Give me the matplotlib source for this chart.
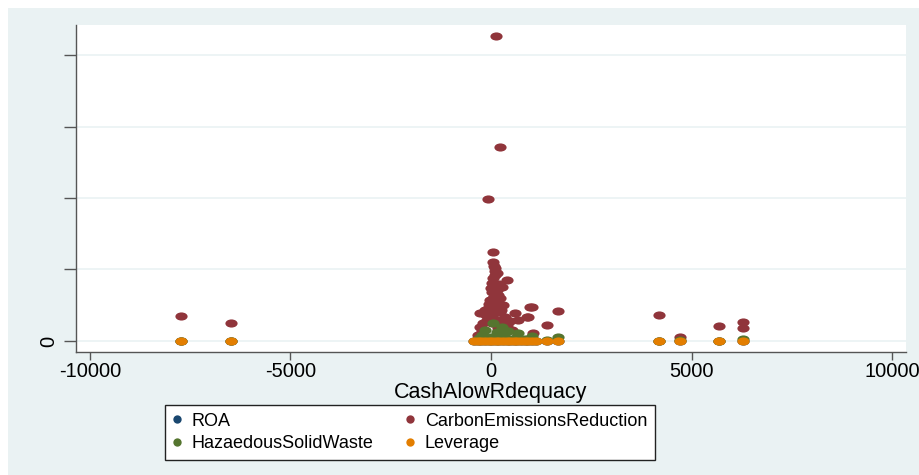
import numpy as np
import matplotlib
matplotlib.use("Agg")
import matplotlib.pyplot as plt
from matplotlib.path import Path
from matplotlib.transforms import Affine2D
from matplotlib.lines import Line2D
from matplotlib.patches import Rectangle

plt.rcParams['font.family'] = ['Liberation Sans', 'DejaVu Sans']

# ---------------- data ----------------
x_label = "CashAlowRdequacy"
series_names = ["ROA", "CarbonEmissionsReduction", "HazaedousSolidWaste", "Leverage"]
series_colors = ["#1A476F", "#90353B", "#55752F", "#E37E00"]

lev_x = [-7731, -6484, -420, -330, -240, -150, -60, 30, 120, 210, 300, 390,
         480, 570, 660, 750, 840, 930, 1020, 1110, 1389, 1663, 4190, 4713, 5686, 6284]
lev_y = [0] * len(lev_x)

roa_x = list(lev_x)
roa_y = [0] * len(roa_x)

cer_x = [-7731, -6484, 125, 217, -67, 4190, 4713, 5686, 6284, 6284,
         57, 57, 100, 100, 390, 17, 266, 17, 182, -25, 182, -150, 141, 307,
         -274, 17, 349, 598, 972, 890, -274, 17, 390, 681, -316, 182, 1015,
         1663, 932, 1389, 1050, 60, 140, 40, 220, 100, 250, -100, -200, 300,
         -60, 160, 80, 230, 0, 120, 200, -40, 60, 260, 150, 30, 110, -120,
         330, 480, 520, -230, 90]
cer_y = [0.35, 0.25, 4.27, 2.71, 1.99, 0.36, 0.055, 0.21, 0.27, 0.18,
         1.25, 1.11, 1.02, 0.92, 0.85, 0.81, 0.76, 0.69, 0.64, 0.57, 0.55, 0.43, 0.46, 0.50,
         0.39, 0.36, 0.34, 0.39, 0.48, 0.34, 0.20, 0.25, 0.22, 0.29, 0.08, 0.18, 0.47,
         0.42, 0.33, 0.22, 0.11, 0.88, 0.72, 0.60, 0.60, 0.40, 0.30, 0.30, 0.25, 0.15,
         0.48, 0.95, 1.05, 0.40, 0.74, 0.66, 0.80, 0.52, 0.46, 0.44, 0.30, 0.33, 0.56,
         0.36, 0.24, 0.28, 0.16, 0.14, 0.98]

hsw_x = [57, -150, 266, 432, 681, -233, 1015, 141, 1663, 6284, 4713,
         -7731, -6484, 4190, 5686, 350, 600, 850, 1389, -300, 0, 200]
hsw_y = [0.25, 0.15, 0.19, 0.14, 0.11, 0.09, 0.07, 0.12, 0.06, 0.03, 0.01,
         0, 0, 0, 0, 0.05, 0.04, 0.03, 0.01, 0.04, 0.06, 0.08]

x_ticks = [-10000, -5000, 0, 5000, 10000]
x_tick_labels = ["-10000", "-5000", "0", "5000", "10000"]
y_ticks = [0, 1, 2, 3, 4]
y_tick_labels = ["0", "", "", "", ""]

# ---------------- figure ----------------
W, H = 920, 475
fig = plt.figure(figsize=(W / 100, H / 100), dpi=100, facecolor="white")
bg = "#EAF2F3"
fig.patches.append(Rectangle((8 / W, 0), 1 - 8 / W, 1 - 8 / H, transform=fig.transFigure,
                             facecolor=bg, edgecolor="none", zorder=-10))

ax_l, ax_r, ax_t, ax_b = 76, 906, 25, 352
ax = fig.add_axes([ax_l / W, 1 - ax_b / H, (ax_r - ax_l) / W, (ax_b - ax_t) / H])
ax.set_facecolor("white")

ellipse = Path.unit_circle().transformed(Affine2D().scale(1.5, 1.0))

data = [(roa_x, roa_y), (cer_x, cer_y), (hsw_x, hsw_y), (lev_x, lev_y)]
for (xs, ys), c in zip(data, series_colors):
    ax.plot(xs, ys, linestyle="none", marker=ellipse, markersize=8.8,
            markerfacecolor=c, markeredgewidth=0, zorder=3)

ax.set_xlim(-10349, 10349)
ax.set_ylim(-0.154, 4.42)
ax.set_xticks(x_ticks)
ax.set_xticklabels(x_tick_labels)
ax.set_yticks(y_ticks)
ax.set_yticklabels(y_tick_labels, rotation=90, va="center")
ax.grid(axis="y", color=bg, linewidth=1.2, zorder=0)
ax.set_axisbelow(True)

for s in ["top", "right"]:
    ax.spines[s].set_visible(False)
for s in ["left", "bottom"]:
    ax.spines[s].set_color("#555555")
    ax.spines[s].set_linewidth(1.0)

ax.tick_params(axis="x", length=6, width=1, color="#555555", labelsize=14.5, pad=1.5, labelcolor="black")
ax.tick_params(axis="y", length=9, width=1, color="#555555", labelsize=14.5, pad=4, labelcolor="black")
ax.set_xlabel(x_label, fontsize=15.5, labelpad=0.5)

handles = [Line2D([], [], linestyle="none", marker="o", markersize=6,
                  markerfacecolor=c, markeredgewidth=0) for c in series_colors]
order = [0, 2, 1, 3]
leg = fig.legend([handles[i] for i in order], [series_names[i] for i in order],
                 loc="upper left", bbox_to_anchor=(165 / W, 1 - 405 / H), ncol=2,
                 fontsize=13, frameon=True, fancybox=False, borderaxespad=0,
                 borderpad=0.42, handlelength=0.45, handletextpad=0.6,
                 columnspacing=1.8, labelspacing=0.32)
fr = leg.get_frame()
fr.set_edgecolor("#222222")
fr.set_linewidth(1.0)
fr.set_facecolor("white")
fr.set_alpha(1)

fig.savefig("out.png", dpi=100, facecolor="white")
